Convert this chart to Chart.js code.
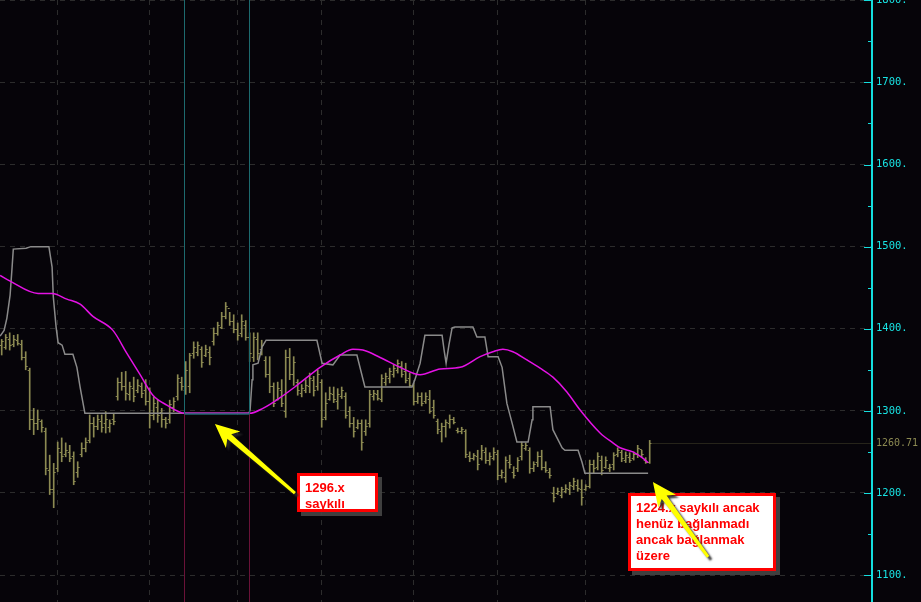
<!DOCTYPE html>
<html>
<head>
<meta charset="utf-8">
<script src="https://cdn.jsdelivr.net/npm/chart.js@4.4.1/dist/chart.umd.min.js"></script>
<style>
  html, body { margin: 0; padding: 0; background: #060409; }
  canvas { display: block; }
</style>
</head>
<body>
<canvas id="chart" width="921" height="602"></canvas>
<script>
// gunluk bar verisi (soldan saga)
const highs = [1387,1393,1395,1392,1393,1386,1372,1352,1303,1301,1289,1279,1246,1236,1262,1267,1261,1258,1250,1238,
  1261,1267,1295,1292,1295,1295,1299,1289,1297,1340,1347,1348,1335,1341,1338,1334,1338,1328,1317,1313,
  1303,1292,1313,1316,1344,1341,1360,1370,1384,1384,1378,1380,1378,1401,1408,1420,1432,1420,1417,1407,
  1417,1410,1395,1395,1395,1386,1366,1366,1334,1335,1338,1374,1376,1366,1338,1332,1338,1346,1342,1350,
  1338,1322,1329,1329,1327,1329,1322,1305,1292,1289,1289,1289,1325,1325,1325,1344,1346,1352,1356,1362,
  1360,1358,1346,1334,1322,1322,1322,1325,1313,1290,1285,1289,1295,1292,1279,1280,1277,1250,1248,1252,
  1258,1255,1249,1255,1252,1228,1244,1246,1232,1243,1262,1261,1255,1238,1250,1252,1238,1230,1207,1206,
  1207,1210,1213,1218,1216,1216,1210,1240,1240,1249,1245,1244,1235,1249,1255,1252,1250,1249,1250,1258,
  1252,1243,1264];
const lows = [1368,1375,1374,1378,1380,1362,1350,1277,1271,1277,1274,1222,1198,1182,1226,1238,1244,1238,1210,1219,
  1244,1250,1261,1268,1277,1274,1273,1274,1283,1313,1325,1313,1313,1311,1322,1316,1307,1279,1289,1286,
  1280,1279,1285,1299,1313,1325,1320,1322,1364,1367,1353,1366,1356,1380,1392,1400,1412,1404,1395,1386,
  1390,1386,1360,1360,1362,1368,1341,1322,1305,1313,1305,1292,1338,1331,1319,1317,1322,1322,1318,1325,
  1280,1289,1313,1310,1302,1315,1291,1280,1268,1278,1252,1270,1280,1313,1313,1311,1331,1334,1341,1346,
  1341,1334,1329,1307,1309,1306,1309,1297,1291,1272,1262,1268,1279,1284,1273,1272,1243,1238,1240,1228,
  1240,1236,1234,1240,1216,1218,1213,1230,1218,1226,1240,1252,1224,1226,1232,1228,1225,1218,1189,1198,
  1194,1200,1198,1204,1202,1185,1203,1206,1224,1228,1222,1230,1226,1228,1244,1238,1237,1237,1240,1243,
  1244,1236,1236];
const opens = [1380,1378,1388,1382,1386,1382,1365,1350,1290,1285,1288,1275,1228,1205,1230,1250,1248,1250,1245,1225,
  1248,1255,1265,1285,1282,1288,1285,1280,1290,1318,1335,1330,1320,1328,1325,1330,1325,1312,1295,1305,
  1298,1290,1290,1305,1318,1335,1325,1330,1370,1372,1375,1368,1372,1385,1395,1402,1415,1425,1410,1400,
  1395,1405,1390,1365,1388,1375,1362,1345,1330,1315,1325,1300,1365,1345,1335,1322,1325,1330,1338,1330,
  1335,1292,1315,1320,1312,1318,1318,1300,1285,1280,1285,1275,1285,1318,1320,1315,1335,1340,1345,1350,
  1355,1348,1340,1330,1312,1318,1312,1315,1305,1288,1275,1282,1285,1290,1277,1276,1275,1245,1243,1245,
  1242,1250,1240,1243,1248,1222,1220,1238,1225,1230,1245,1255,1252,1230,1238,1245,1232,1225,1200,1200,
  1198,1202,1205,1208,1210,1205,1205,1208,1235,1232,1240,1232,1230,1235,1248,1250,1240,1244,1242,1248,
  1254,1240,1238];
const closes = [1385,1390,1380,1387,1383,1365,1355,1290,1285,1290,1280,1230,1205,1225,1255,1245,1252,1242,1215,1232,
  1255,1262,1285,1282,1290,1280,1290,1285,1288,1335,1330,1322,1330,1318,1332,1322,1312,1295,1310,1295,
  1290,1285,1308,1312,1340,1330,1350,1368,1378,1380,1360,1375,1365,1395,1405,1415,1428,1410,1400,1392,
  1410,1390,1370,1390,1370,1380,1345,1330,1310,1328,1310,1365,1345,1360,1325,1328,1332,1340,1325,1345,
  1290,1310,1322,1315,1320,1325,1295,1285,1275,1285,1262,1282,1320,1322,1316,1340,1342,1348,1352,1358,
  1345,1338,1332,1312,1318,1310,1318,1300,1295,1278,1282,1286,1290,1286,1275,1278,1248,1242,1246,1235,
  1252,1240,1245,1250,1222,1226,1240,1235,1222,1240,1258,1258,1230,1235,1245,1232,1228,1222,1195,1202,
  1205,1206,1210,1214,1206,1195,1208,1235,1230,1245,1228,1240,1232,1246,1252,1242,1246,1240,1248,1255,
  1248,1238,1260.71];
const lastPrice = 1260.71;

// pembe ortalama (bar no, deger)
const maIdx = [-0.4,2.1,9.1,12.6,16.3,19.6,22.8,27.8,31.3,34.6,37.8,41.3,45.8,62,65.3,69.6,73.8,79.6,84.6,87.8,
  90.3,94.6,99.6,104.6,109.6,114.6,119.6,122.8,125.3,127.8,131.3,134.6,137.8,141.3,144.6,149.6,152.8,154.6,157.8,160.1,161.6];
const maVal = [1465,1458,1443,1443,1436,1430,1415,1398,1370,1344,1319,1307,1297,1297,1303,1316,1331,1353,1368,1375,
  1374,1365,1353,1344,1351,1353,1366,1372,1375,1372,1362,1352,1341,1323,1301,1273,1261,1255,1250,1243,1237];

// gri kanal cizgisi
const stepIdx = [-0.4,0.6,1.3,2.1,2.6,2.9,6.1,7.3,11.8,12.6,12.9,13.6,14.1,15.1,15.8,17.8,18.8,19.6,20.8,61.8,
  62.1,62.6,62.8,64.1,65.1,66.1,78.8,80.1,82.8,84.6,88.8,90.8,102.6,103.3,104.6,105.8,110.1,110.6,111.1,111.8,
  112.6,113.3,117.8,118.8,120.8,121.6,124.1,125.1,126.3,127.6,128.8,131.6,132.6,132.8,137.1,137.8,140.1,140.8,144.1,145.1,
  145.8,161.6];
const stepVal = [1391,1398,1413,1441,1475,1497,1498,1500,1500,1475,1439,1402,1383,1380,1369,1369,1353,1329,1297,1297,
  1301,1338,1356,1358,1378,1386,1386,1358,1356,1368,1368,1329,1329,1338,1358,1392,1392,1374,1358,1380,
  1401,1402,1402,1390,1390,1366,1366,1353,1309,1285,1262,1262,1289,1305,1305,1277,1255,1252,1252,1237,
  1224,1224];

// dikey cizgiler ve 1296 seviyesi
const cycleLines = [45.7, 61.95];
const cycleLevel = 1296;
const monthIdx = [14, 37, 59, 80, 103, 124, 146];

const yMin = 1067.15, yMax = 1800.4;

const notes = [
  { box: [73.8, 1224.3, 94.1, 1176.8], lines: ['1296.x', 'saykılı'], arrow: [73.3, 1199.9, 53.3, 1283.9] },
  { box: [156.6, 1200.0, 193.6, 1105.0], lines: ['1224.x saykılı ancak', 'henüz bağlanmadı', 'ancak bağlanmak', 'üzere'], arrow: [176.6, 1122.0, 162.8, 1213.3] }
];

function drawArrow(ctx, x1, y1, x2, y2) {
  const a = Math.atan2(y2 - y1, x2 - x1);
  const L = Math.hypot(x2 - x1, y2 - y1);
  ctx.save();
  ctx.translate(x2, y2);
  ctx.rotate(a);
  ctx.beginPath();
  ctx.moveTo(0, 0);
  ctx.lineTo(-24, -11);
  ctx.lineTo(-19, -3);
  ctx.lineTo(-L, -1.5);
  ctx.lineTo(-L, 1.5);
  ctx.lineTo(-19, 3);
  ctx.lineTo(-24, 11);
  ctx.closePath();
  ctx.shadowColor = 'rgba(40,40,40,0.9)';
  ctx.shadowOffsetX = 3;
  ctx.shadowOffsetY = 3;
  ctx.shadowBlur = 2;
  ctx.fillStyle = '#ffff00';
  ctx.fill();
  ctx.restore();
}

const ohlcTicks = {
  id: 'ohlcTicks',
  afterDatasetDraw(chart, args) {
    if (args.index !== 0) return;
    const ctx = chart.ctx, y = chart.scales.y;
    ctx.save();
    ctx.strokeStyle = '#8c8a52';
    ctx.lineWidth = 1;
    ctx.beginPath();
    args.meta.data.forEach((bar, i) => {
      const yo = Math.round(y.getPixelForValue(opens[i])) + 0.5;
      const yc = Math.round(y.getPixelForValue(closes[i])) + 0.5;
      ctx.moveTo(bar.x - 2, yo); ctx.lineTo(bar.x, yo);
      ctx.moveTo(bar.x, yc); ctx.lineTo(bar.x + 2, yc);
    });
    ctx.stroke();
    ctx.restore();
  }
};

const extras = {
  id: 'extras',
  afterDraw(chart) {
    const ctx = chart.ctx, x = chart.scales.x, y = chart.scales.y, area = chart.chartArea;
    ctx.save();
    // eksen tick cizgileri (icerde)
    ctx.strokeStyle = '#14dede';
    ctx.lineWidth = 1;
    ctx.beginPath();
    y.ticks.forEach(t => {
      const py = Math.round(y.getPixelForValue(t.value)) + 0.5;
      const len = t.value % 100 === 0 ? 8 : 4;
      ctx.moveTo(area.right - len, py); ctx.lineTo(area.right, py);
    });
    ctx.stroke();
    // son fiyat
    const py = Math.round(y.getPixelForValue(lastPrice)) + 0.5;
    const lastX = chart.getDatasetMeta(0).data[highs.length - 1].x;
    ctx.strokeStyle = '#26241a';
    ctx.beginPath();
    ctx.moveTo(lastX + 2, py); ctx.lineTo(area.right - 1, py);
    ctx.stroke();
    ctx.fillStyle = '#8c8a52';
    ctx.font = '10px "DejaVu Sans Mono"';
    ctx.textBaseline = 'middle';
    ctx.fillText(lastPrice.toFixed(2), area.right + 4, py);
    // notlar
    notes.forEach(n => {
      const bx1 = Math.round(x.getPixelForValue(n.box[0])), by1 = Math.round(y.getPixelForValue(n.box[1]));
      const bx2 = Math.round(x.getPixelForValue(n.box[2])), by2 = Math.round(y.getPixelForValue(n.box[3]));
      ctx.fillStyle = 'rgba(70,70,70,0.9)';
      ctx.fillRect(bx1 + 4, by1 + 4, bx2 - bx1, by2 - by1);
      ctx.fillStyle = '#ff0000';
      ctx.fillRect(bx1, by1, bx2 - bx1, by2 - by1);
      ctx.fillStyle = '#ffffff';
      ctx.fillRect(bx1 + 3, by1 + 3, bx2 - bx1 - 6, by2 - by1 - 6);
      ctx.fillStyle = '#ff0000';
      ctx.font = 'bold 13px "Liberation Sans", Arial, sans-serif';
      ctx.textBaseline = 'alphabetic';
      n.lines.forEach((s, k) => ctx.fillText(s, bx1 + 8, by1 + 19 + k * 16));
      drawArrow(ctx, x.getPixelForValue(n.arrow[0]), y.getPixelForValue(n.arrow[1]),
        x.getPixelForValue(n.arrow[2]), y.getPixelForValue(n.arrow[3]));
    });
    ctx.restore();
  }
};

const vlineSets = [];
cycleLines.forEach(v => {
  vlineSets.push({ type: 'line', data: [{ x: v, y: yMax }, { x: v, y: cycleLevel }], borderColor: '#1d6a6e', borderWidth: 1, pointRadius: 0, order: 0 });
  vlineSets.push({ type: 'line', data: [{ x: v, y: cycleLevel }, { x: v, y: yMin }], borderColor: '#6a1238', borderWidth: 1, pointRadius: 0, order: 0 });
});
vlineSets.push({ type: 'line', data: cycleLines.map(v => ({ x: v, y: cycleLevel })), borderColor: '#1d6a6e', borderWidth: 1.5, pointRadius: 0, order: 0 });

new Chart(document.getElementById('chart'), {
  type: 'bar',
  data: {
    datasets: [
      {
        data: highs.map((h, i) => ({ x: i, y: [lows[i], h] })),
        backgroundColor: '#8c8a52',
        barThickness: 1,
        grouped: false,
        order: 5
      },
      {
        type: 'line',
        data: stepIdx.map((v, i) => ({ x: v, y: stepVal[i] })),
        borderColor: '#8a8a8a',
        borderWidth: 1.5,
        pointRadius: 0,
        order: 3
      },
      {
        type: 'line',
        data: maIdx.map((v, i) => ({ x: v, y: maVal[i] })),
        borderColor: '#e412e4',
        borderWidth: 1.5,
        pointRadius: 0,
        cubicInterpolationMode: 'monotone',
        order: 2
      },
      ...vlineSets
    ]
  },
  options: {
    responsive: false,
    animation: false,
    events: [],
    layout: { padding: 0, autoPadding: false },
    plugins: { legend: { display: false }, tooltip: { enabled: false } },
    scales: {
      x: {
        type: 'linear',
        min: -0.425,
        max: 217.575,
        offset: false,
        afterBuildTicks: s => { s.ticks = monthIdx.map(v => ({ value: v })); },
        afterFit: s => { s.height = 0; s.paddingLeft = 0; s.paddingRight = 0; },
        ticks: { display: false },
        grid: { color: '#2c2c2c', drawTicks: false, offset: false },
        border: { display: false, dash: [5, 5] }
      },
      y: {
        position: 'right',
        min: yMin,
        max: yMax,
        afterBuildTicks: s => {
          const t = [];
          for (let v = 1100; v <= 1800; v += 50) t.push({ value: v });
          s.ticks = t;
        },
        afterFit: s => { s.width = 49; s.paddingTop = 0; s.paddingBottom = 0; },
        ticks: {
          autoSkip: false,
          padding: 4,
          color: '#18e4e4',
          font: { family: '"DejaVu Sans Mono"', size: 10.5 },
          callback: v => (v % 100 === 0 ? v + '.' : '')
        },
        grid: {
          drawTicks: false,
          color: c => (c.tick && c.tick.value % 100 === 0 ? '#2c2c2c' : 'rgba(0,0,0,0)')
        },
        border: { display: true, color: '#14dede', width: 2, dash: [5, 5] }
      }
    }
  },
  plugins: [ohlcTicks, extras]
});
</script>
</body>
</html>
